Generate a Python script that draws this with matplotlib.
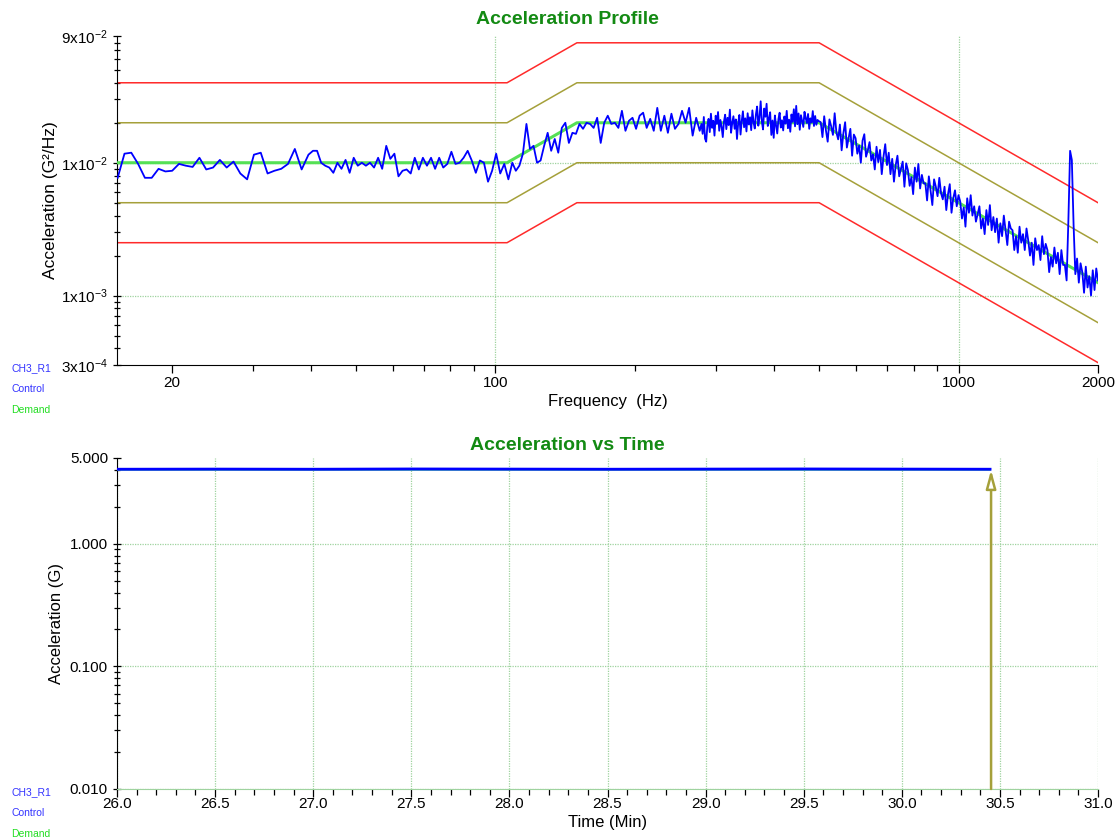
import numpy as np
import matplotlib
matplotlib.use("Agg")
import matplotlib.pyplot as plt
from matplotlib.ticker import FixedLocator, NullFormatter

plt.rcParams["font.family"] = ["Liberation Sans", "DejaVu Sans"]
plt.rcParams["mathtext.fontset"] = "custom"
plt.rcParams["mathtext.rm"] = "Liberation Sans"
plt.rcParams["mathtext.it"] = "Liberation Sans:italic"
plt.rcParams["mathtext.bf"] = "Liberation Sans:bold"

# ---- acceleration profile (PSD) ----
prof_freq = [15.3, 106.0, 150.0, 500.0, 2000.0]
demand = [0.01, 0.01, 0.02, 0.02, 0.00125]
warn_hi = [0.02, 0.02, 0.04, 0.04, 0.0025]
warn_lo = [0.005, 0.005, 0.01, 0.01, 0.000625]
abort_hi = [0.04, 0.04, 0.08, 0.08, 0.005]
abort_lo = [0.0025, 0.0025, 0.005, 0.005, 0.0003125]

band_a1 = (15.3, 39.5)
ctrl_a1 = [7.7, 11.7, 11.9, 9.8, 7.7, 7.7, 9.0, 8.6, 8.7, 9.8, 9.5, 9.3, 10.9, 8.9,
           9.2, 10.5, 9.2, 10.2, 8.3, 7.5, 11.5, 11.9, 8.3, 8.7, 9.0, 9.8, 12.7, 8.9, 11.5]
band_a2 = (40.4, 106.7)
ctrl_a2 = [12.3, 12.3, 10.0, 9.5, 9.2, 8.4, 10.0, 9.0, 10.5, 8.4, 10.9, 9.5, 10.0, 9.5,
           10.0, 9.2, 10.9, 9.0, 13.4, 10.7, 11.7, 7.9, 8.7, 8.9, 8.3, 10.9, 8.9, 10.9,
           9.5, 10.9, 9.0, 10.9, 9.2, 9.8, 12.1, 9.8, 10.0, 10.9, 12.3, 10.4, 8.4, 10.4,
           10.0, 7.2, 8.7, 11.7, 8.3, 9.8, 7.5]
band_b = (108.8, 276.2)
ctrl_b = [10.0, 8.7, 9.5, 11.7, 19.6, 12.7, 13.4, 10.0, 10.4, 13.4, 16.8, 12.3, 15.1,
          11.9, 18.3, 20.0, 14.1, 16.8, 16.5, 19.6, 18.0, 20.0, 19.6, 18.3, 21.8, 14.1,
          20.0, 22.6, 19.6, 20.0, 18.3, 24.6, 17.4, 20.7, 21.8, 18.0, 22.6, 23.8, 18.3,
          21.4, 17.4, 25.9, 17.4, 22.6, 16.8, 23.4, 18.0, 19.6, 24.6, 20.0, 25.9, 16.0,
          21.8, 17.4]
band_c = (278.6, 499.0)
ctrl_c = [19.6, 16.5, 22.1, 15.2, 14.4, 19.0, 21.4, 17.0, 23.4, 18.3,
          20.7, 16.0, 22.6, 19.6, 24.1, 17.4, 21.0, 18.7, 15.6, 20.4,
          23.0, 17.9, 21.8, 19.2, 25.1, 16.8, 20.0, 22.4, 18.0, 21.2,
          15.1, 19.8, 22.9, 16.3, 20.6, 24.4, 18.5, 21.6, 17.2, 23.6,
          19.4, 22.0, 17.6, 24.8, 20.2, 18.1, 23.2, 26.5, 19.0, 21.9,
          29.0, 20.4, 17.8, 25.6, 22.2, 27.8, 18.9, 21.5, 24.0, 16.2,
          20.8, 15.4, 22.7, 19.1, 16.6, 21.3, 23.8, 18.4, 20.9, 17.5,
          22.3, 19.7, 24.6, 18.2, 21.1, 17.1, 23.1, 20.3, 25.3, 18.8,
          26.8, 19.5, 23.5, 17.7, 22.8, 20.5, 18.6, 24.2, 21.7, 19.9,
          23.3, 18.0, 21.6, 20.1, 24.5, 18.9, 22.5, 19.3, 21.0, 20.6]
band_d = (504.0, 2000.0)
ctrl_d = [20.2, 15.6, 22.4, 17.5, 14.4, 21.2, 18.8, 16.2, 23.6, 16.9,
          15.0, 19.4, 12.4, 16.7, 20.2, 13.0, 15.3, 18.0, 11.3, 16.3,
          15.3, 11.7, 13.5, 10.0, 14.7, 16.4, 11.1, 12.4, 14.3, 10.4,
          11.6, 8.9, 13.2, 10.1, 12.5, 8.2, 11.1, 13.8, 9.6, 11.9,
          8.2, 10.7, 7.2, 9.6, 11.3, 7.9, 9.0, 10.2, 6.6, 9.9,
          8.8, 6.7, 7.8, 5.8, 9.2, 7.2, 9.8, 6.4, 8.1, 7.0,
          7.0, 5.2, 7.9, 6.2, 4.8, 7.5, 6.6, 5.6, 7.7, 5.9,
          5.3, 6.6, 4.4, 5.8, 6.9, 4.2, 5.4, 6.2, 4.7, 5.7,
          5.1, 3.8, 4.6, 3.3, 5.4, 4.2, 5.7, 4.0, 4.7, 3.6,
          4.1, 4.7, 3.2, 3.8, 2.9, 4.4, 3.4, 4.8, 3.1, 3.9,
          3.0, 3.8, 2.5, 3.5, 2.8, 4.0, 3.1, 2.4, 3.6, 3.2,
          3.1, 2.2, 2.8, 2.1, 3.3, 2.5, 2.9, 2.2, 3.2, 2.6,
          2.0, 2.5, 1.7, 2.7, 2.2, 2.4, 1.85, 2.8, 2.05, 2.45,
          2.2, 1.5, 1.95, 1.65, 2.3, 1.75, 2.1, 1.45, 2.2, 1.7,
          1.7, 1.3, 3.6, 12.3, 10.5, 3.4, 1.45, 1.9, 1.25, 1.75,
          1.5, 1.05, 1.65, 1.15, 1.4, 1.0, 1.55, 1.1, 1.6, 1.3]

psd_yticks = [3e-4, 1e-3, 1e-2, 9e-2]
psd_yticklabels = [r"$3\mathrm{x}10^{-4}$", r"$1\mathrm{x}10^{-3}$",
                   r"$1\mathrm{x}10^{-2}$", r"$9\mathrm{x}10^{-2}$"]
psd_xticks = [20, 100, 1000, 2000]
psd_xgrid = [100, 1000]
psd_ygrid = [1e-3, 1e-2]

# ---- acceleration vs time ----
time_min = [26.0, 26.5, 27.0, 27.5, 28.0, 28.5, 29.0, 29.5, 30.0, 30.45]
ctrl_g = [4.05, 4.06, 4.05, 4.07, 4.06, 4.05, 4.06, 4.07, 4.06, 4.05]
demand_g = [4.0, 4.0, 4.0, 4.0, 4.0, 4.0, 4.0, 4.0, 4.0, 4.0]
marker_time = 30.455
time_ticks = [26.0, 26.5, 27.0, 27.5, 28.0, 28.5, 29.0, 29.5, 30.0, 30.5, 31.0]
g_ticks = [0.01, 0.1, 1.0, 5.0]
g_ticklabels = ["0.010", "0.100", "1.000", "5.000"]

RED = "#ff2a2a"
OLIVE = "#a5a03a"
GREEN_D = "#55e055"
BLUE = "#0000ff"
GRID = "#9fd39f"
TITLE_C = "#138a13"


def band_freqs(band, values):
    return np.geomspace(band[0], band[1], len(values))


fig = plt.figure(figsize=(11.16, 8.39), dpi=100)
ax1 = fig.add_axes([117 / 1116, 1 - 365 / 839, 981 / 1116, 329 / 839])
ax2 = fig.add_axes([117 / 1116, 1 - 789 / 839, 981 / 1116, 331 / 839])

# top chart
for g in psd_xgrid:
    ax1.axvline(g, color=GRID, lw=0.9, ls=(0, (1, 1)), zorder=1)
for g in psd_ygrid:
    ax1.axhline(g, color=GRID, lw=0.9, ls=(0, (1, 1)), zorder=1)

ax1.plot(prof_freq, abort_hi, color=RED, lw=1.1, zorder=2)
ax1.plot(prof_freq, abort_lo, color=RED, lw=1.1, zorder=2)
ax1.plot(prof_freq, warn_hi, color=OLIVE, lw=1.1, zorder=2)
ax1.plot(prof_freq, warn_lo, color=OLIVE, lw=1.1, zorder=2)
ax1.plot(prof_freq, demand, color=GREEN_D, lw=2.2, zorder=3)

freqs = np.concatenate([band_freqs(band_a1, ctrl_a1), band_freqs(band_a2, ctrl_a2),
                        band_freqs(band_b, ctrl_b), band_freqs(band_c, ctrl_c),
                        band_freqs(band_d, ctrl_d)])
ctrl = np.concatenate([ctrl_a1, ctrl_a2, ctrl_b, ctrl_c, ctrl_d]) * 1e-3
ax1.plot(freqs, ctrl, color=BLUE, lw=1.3, zorder=4)

ax1.set_xscale("log")
ax1.set_yscale("log")
ax1.set_xlim(15.25, 2000)
ax1.set_ylim(3e-4, 9e-2)
ax1.xaxis.set_major_locator(FixedLocator(psd_xticks))
ax1.set_xticklabels([str(t) for t in psd_xticks])
ax1.xaxis.set_minor_locator(FixedLocator(
    [30, 40, 50, 60, 70, 80, 90, 200, 300, 400, 500, 600, 700, 800, 900]))
ax1.xaxis.set_minor_formatter(NullFormatter())
ax1.yaxis.set_major_locator(FixedLocator(psd_yticks))
ax1.set_yticklabels(psd_yticklabels)
ax1.yaxis.set_minor_locator(FixedLocator(
    [4e-4, 5e-4, 6e-4, 7e-4, 8e-4, 9e-4, 2e-3, 3e-3, 4e-3, 5e-3, 6e-3, 7e-3, 8e-3, 9e-3,
     2e-2, 3e-2, 4e-2, 5e-2, 6e-2, 7e-2, 8e-2]))
ax1.yaxis.set_minor_formatter(NullFormatter())
ax1.set_xlabel("Frequency  (Hz)", fontsize=12, labelpad=3)
ax1.set_ylabel("Acceleration (G\u00b2/Hz)", fontsize=12.5, labelpad=2)

# bottom chart
for g in time_ticks:
    ax2.axvline(g, color=GRID, lw=0.9, ls=(0, (1, 1)), zorder=1)
for g in g_ticks[:3]:
    ax2.axhline(g, color=GRID, lw=0.9, ls=(0, (1, 1)), zorder=1)
ax2.axvline(time_min[0], color="#1aa01a", lw=1.4, zorder=2)

ax2.plot(time_min, demand_g, color="#40c0a0", lw=1.2, zorder=3)
ax2.plot(time_min, ctrl_g, color=BLUE, lw=2.0, zorder=4)
ax2.annotate("", xy=(marker_time, demand_g[-1]), xytext=(marker_time, g_ticks[0]),
             arrowprops=dict(arrowstyle="-|>,head_length=1.1,head_width=0.3",
                             fc="white", ec=OLIVE, lw=1.8, shrinkA=0, shrinkB=0),
             zorder=5)

ax2.set_yscale("log")
ax2.set_xlim(26.0, 31.0)
ax2.set_ylim(0.01, 5.0)
ax2.xaxis.set_major_locator(FixedLocator(time_ticks))
ax2.set_xticklabels([f"{t:.1f}" for t in time_ticks])
ax2.xaxis.set_minor_locator(FixedLocator(np.arange(26.0, 31.01, 0.1)))
ax2.yaxis.set_major_locator(FixedLocator(g_ticks))
ax2.set_yticklabels(g_ticklabels)
ax2.yaxis.set_minor_locator(FixedLocator(
    [0.02, 0.03, 0.04, 0.05, 0.06, 0.07, 0.08, 0.09, 0.2, 0.3, 0.4, 0.5, 0.6, 0.7,
     0.8, 0.9, 2, 3, 4]))
ax2.yaxis.set_minor_formatter(NullFormatter())
ax2.set_xlabel("Time (Min)", fontsize=12, labelpad=3)
ax2.set_ylabel("Acceleration (G)", fontsize=12, labelpad=4)

for ax in (ax1, ax2):
    ax.spines["top"].set_visible(False)
    ax.spines["right"].set_visible(False)
    ax.tick_params(axis="both", which="major", labelsize=11, length=6, width=0.9)
    ax.tick_params(axis="y", which="both", direction="inout")
    ax.tick_params(axis="y", which="minor", length=5, width=0.9)
    ax.tick_params(axis="x", which="minor", length=4, width=0.9)
    ax.tick_params(axis="x", which="major", pad=2)
ax2.spines["bottom"].set_color(GRID)
ax2.tick_params(axis="x", which="major", pad=0)

fig.text(567 / 1116, 1 - 19 / 839, "Acceleration Profile", ha="center", va="center",
         fontsize=14, fontweight="bold", color=TITLE_C)
fig.text(567 / 1116, 1 - 445 / 839, "Acceleration vs Time", ha="center", va="center",
         fontsize=14, fontweight="bold", color=TITLE_C)

for y0 in (368, 792):
    fig.text(11 / 1116, 1 - y0 / 839, "CH3_R1", color="#3333ff", fontsize=7.5, va="center")
    fig.text(11 / 1116, 1 - (y0 + 21) / 839, "Control", color="#3333ff", fontsize=7.5,
             va="center")
    fig.text(11 / 1116, 1 - (y0 + 42) / 839, "Demand", color="#22dd22", fontsize=7.5,
             va="center")

fig.savefig("out.png", dpi=100)
